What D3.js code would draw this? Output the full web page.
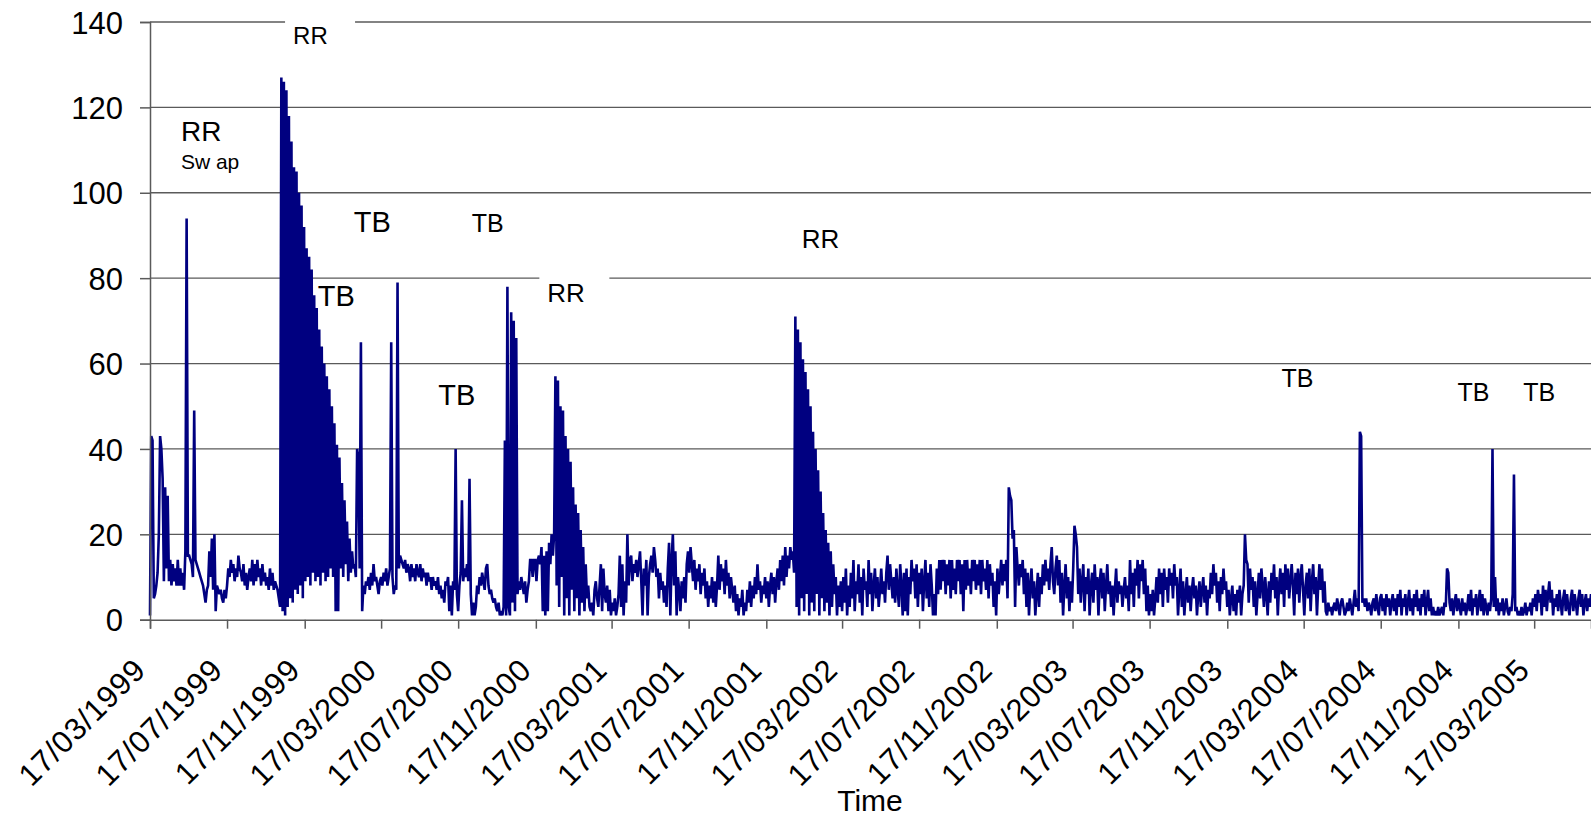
<!DOCTYPE html>
<html>
<head>
<meta charset="utf-8">
<script src="https://cdn.jsdelivr.net/npm/d3@7"></script>
<style>
  html, body { margin: 0; padding: 0; background: #fff; overflow: hidden; }
  svg { display: block; font-family: "Liberation Sans", Arial, sans-serif; }
</style>
</head>
<body>
<svg id="chart" width="1591" height="821"></svg>
<script>
// Observations every second day from 17/03/1999, grouped by four-month window.
const firstDay = "1999-03-17";
const stepDays = 2;

const v1999_03 = [1,43,42,5,6,8,11,20,43,40, 33,9,31,12,29,9,14,8,13,9, 12,8,14,8,12,8,11,7,16,94,
  15,15,14,13,10,49,14,13,12,11, 10,9,8,6,4,7,8,16,10,19, 7,20,2,8,7,6,7,5,4,7, 5];
const v1999_07 = [8,12,10,14,11,13,9,12,10,15, 12,11,9,13,8,11,7,10,12,9, 14,8,13,9,14,10,12,8,13,9,
  11,8,10,7,12,8,11,7,9,8, 7,5,3, 127,2,126,1,124,3,118,5,112,4, 106,7,105,6,100,8,97,5];
const v1999_11 = [92,9,87,10,85,8,82,11,76,9, 73,10,68,8,64,11,60,9,57,10, 54,12,50,10,46,2,41,2,38,12,
  32,10,28,13,23,9,19,11,16,12, 13,10,40,38,12,65,2,8,6,9, 8,10,7,11,8,13,9,10,8,6, 9];
const v2000_03 = [10,8,11,9,12,8,10,12,65,10, 6,8,7,79,12,15,14,13,12,14, 11,13,12,9,13,10,12,9,13,11,
  10,13,9,12,10,11,8,11,9,10, 7,10,8,9,7,10,6,8,5,7, 4,9,8,10,2,8,1,9,7,40, 6];
const v2000_07 = [2,8,11,28,9,12,10,13,9,33, 6,1,4,1,3,8,6,10,8,11, 9,7,12,13,8,6,7,5,4,5,
  3,2,4,1,2,1,3,42,1,78, 3,1,72,4,70,2,66,6,9,7, 10,8,6,9,4,7,9,14,14,10, 14];
const v2000_11 = [14,9,14,15,13,17,2,15,1,16, 2,18,13,20,15,20,57,8,56,3, 50,10,49,1,43,5,40,1,37,7,
  31,2,27,5,25,1,21,4,17,2, 13,5,8,3,2,4,1,7,9,5, 3,8,13,2,12,6,4,8,2,7, 1];
const v2001_03 = [4,2,5,1,3,6,15,3,13,1, 9,4,20,8,14,15,9,13,11,14, 10,13,16,9,1,12,8,14,1,10,
  13,15,11,17,14,10,12,5,11,7, 9,4,8,3,12,18,1,14,20,8, 16,1,10,7,2,9,5,10,4,13, 16];
const v2001_07 = [11,17,13,9,14,7,12,9,13,6, 11,8,12,5,9,3,8,5,10,4, 9,3,8,15,7,13,9,12,6,14,
  8,11,5,10,7,4,8,2,6,1, 5,3,7,1,4,2,7,4,9,3, 8,5,10,6,13,7,9,4,8,6, 10];
const v2001_11 = [5,9,3,8,11,6,10,4,9,12, 7,14,9,15,8,17,10,15,12,17, 14,16,11,71,3,68,1,65,5,61,
  2,58,6,54,1,50,4,44,2,40, 6,35,1,30,5,25,2,21,4,18, 1,16,3,13,6,10,1,8,3,9, 2];
const v2002_03 = [10,4,12,1,8,3,11,5,14,2, 9,6,13,4,10,1,12,7,9,3, 14,6,11,2,8,12,5,10,3,7,
  12,6,9,4,11,15,7,13,9,5, 10,4,12,7,3,13,8,1,11,2, 12,1,10,6,14,9,12,5,13,3, 11];
const v2002_07 = [6,12,2,9,14,5,11,3,13,8, 1,6,1,12,6,14,7,14,9,14, 6,13,8,14,5,14,7,12,6,14,
  9,14,6,13,2,14,7,14,8,12, 6,14,9,14,7,13,8,14,6,14, 9,12,7,14,5,13,8,11,3,9, 1];
const v2002_11 = [12,6,10,14,8,13,9,14,5,31, 29,28,19,21,3,17,12,8,13,10, 14,6,12,3,11,1,8,12,5,9,
  1,6,11,3,10,6,13,8,14,9, 12,7,13,17,9,6,12,15,8,14, 4,11,1,8,13,5,10,2,9,4, 12];
const v2003_03 = [22,20,17,6,12,4,9,13,2,10, 6,12,1,8,11,4,13,7,10,1, 9,12,5,11,2,8,13,6,9,3,
  8,1,7,12,4,9,6,8,3,7, 10,5,8,2,14,6,11,3,12,8, 14,5,13,9,14,6,12,2,8,1, 6];
const v2003_07 = [2,7,1,5,10,4,12,6,11,3, 12,7,10,4,12,8,11,5,13,8, 10,1,7,12,3,9,1,6,10,4,
  8,2,7,10,5,8,1,6,9,3, 7,10,4,8,1,7,5,11,6,13, 8,11,4,9,2,10,6,12,7,9, 3];
const v2003_11 = [7,1,5,8,2,6,1,7,4,8, 1,6,8,20,14,13,4,12,7,10, 3,9,1,6,11,5,12,8,3,10,
  6,1,9,4,11,7,13,5,10,1, 8,12,6,11,3,13,7,12,5,9, 13,8,1,11,6,12,4,10,13,7, 1];
const v2004_03 = [8,11,5,12,2,9,13,6,10,1, 8,13,7,12,4,9,2,1,4,2, 3,1,3,4,2,5,3,1,4,5,
  3,1,2,4,2,5,3,1,4,7, 3,5,2,44,43,4,5,3,5,2, 4,3,1,4,5,2,6,3,1,5, 6];
const v2004_07 = [2,5,1,6,3,5,1,4,6,2, 5,1,6,3,7,1,5,3,6,1, 4,7,2,5,1,6,3,7,2,5,
  1,6,3,7,1,4,7,2,5,1, 3,1,2,1,3,1,2,3,1,4, 3,12,11,4,2,5,1,4,6,2, 5];
const v2004_11 = [3,1,5,2,4,1,3,6,2,7, 1,5,3,6,1,4,7,2,6,1, 5,3,1,4,2,5,40,3,10,2,
  5,1,4,2,5,1,3,5,2,1, 3,2,6,34,2,3,1,2,1,3, 1,2,4,1,3,2,4,1,5,3, 6];
const v2005_03 = [2,7,4,6,1,8,3,7,2,6, 9,4,7,1,5,3,6,2,7,4, 1,5,7,2,6,3,1,5,7,2,
  6,4,1,5,7,3,6,1,4,6, 2,5,3,6];

const yTicks = [0, 20, 40, 60, 80, 100, 120, 140];
const xTickLabels = ["17/03/1999","17/07/1999","17/11/1999","17/03/2000","17/07/2000","17/11/2000",
  "17/03/2001","17/07/2001","17/11/2001","17/03/2002","17/07/2002","17/11/2002","17/03/2003",
  "17/07/2003","17/11/2003","17/03/2004","17/07/2004","17/11/2004","17/03/2005"];
const xTitle = "Time";

// Event notes: text and the date/value at which each sits.
const noteTexts = ["RR", "RR", "Sw ap", "TB", "TB", "TB", "TB", "RR", "RR", "TB", "TB", "TB"];
const noteDates = ["1999-11-26", "1999-05-05", "1999-05-05", "2000-03-03", "2000-01-06", "2000-07-15",
  "2000-09-02", "2001-01-04", "2002-02-11", "2004-03-07", "2004-12-11", "2005-03-25"];
const noteValues = [134.9, 112.1, 105.5, 90.8, 73.5, 50.3, 90.9, 74.35, 87.0, 54.6, 51.2, 51.2];

// ---- styling / layout ----
const W = 1591, H = 821;
const plot = { left: 150, right: 1591, top: 22, bottom: 619.7 };
const noteStyle = [
  { size: 24, anchor: "middle", boxed: true },
  { size: 28, anchor: "start" },
  { size: 21, anchor: "start" },
  { size: 29, anchor: "middle" },
  { size: 29, anchor: "middle" },
  { size: 29, anchor: "middle" },
  { size: 25, anchor: "middle" },
  { size: 26, anchor: "middle", boxed: true },
  { size: 26, anchor: "middle" },
  { size: 25, anchor: "middle" },
  { size: 25, anchor: "middle" },
  { size: 25, anchor: "middle" }
];

const parseIso = d3.utcParse("%Y-%m-%d");
const parseTick = d3.utcParse("%d/%m/%Y");
const start = parseIso(firstDay);

const values = [].concat(v1999_03, v1999_07, v1999_11, v2000_03, v2000_07, v2000_11,
  v2001_03, v2001_07, v2001_11, v2002_03, v2002_07, v2002_11, v2003_03, v2003_07,
  v2003_11, v2004_03, v2004_07, v2004_11, v2005_03);
const points = values.map((v, i) => ({ date: d3.utcDay.offset(start, i * stepDays), value: v }));

const x = d3.scaleUtc()
  .domain([start, points[points.length - 1].date])
  .range([plot.left, plot.right]);
const y = d3.scaleLinear().domain([0, 140]).range([plot.bottom, plot.top]);

const svg = d3.select("#chart");
svg.append("rect").attr("width", W).attr("height", H).attr("fill", "#fff");

const axisColor = "#5a5a5a";

// horizontal gridlines
svg.append("g").selectAll("line")
  .data(yTicks.filter(t => t > 0))
  .join("line")
  .attr("x1", plot.left).attr("x2", plot.right)
  .attr("y1", d => y(d)).attr("y2", d => y(d))
  .attr("stroke", axisColor).attr("stroke-width", 1.3);

// series line
svg.append("path")
  .datum(points)
  .attr("fill", "none")
  .attr("stroke", "#000080")
  .attr("stroke-width", 2.6)
  .attr("stroke-linejoin", "miter")
  .attr("stroke-miterlimit", 2)
  .attr("d", d3.line().x(d => x(d.date)).y(d => y(d.value)));

// y axis
const yAxis = svg.append("g")
  .attr("transform", `translate(${plot.left},0)`)
  .call(d3.axisLeft(y).tickValues(yTicks).tickSize(10).tickPadding(17).tickFormat(d3.format("d")));
yAxis.select(".domain").attr("stroke", axisColor).attr("stroke-width", 1.5);
yAxis.selectAll(".tick line").attr("stroke", axisColor).attr("stroke-width", 1.5);
yAxis.selectAll(".tick text")
  .attr("fill", "#000")
  .style("font-size", "31px")
  .style("font-family", "'Liberation Sans', Arial, sans-serif")
  .attr("dy", "0.36em");

// x axis
const tickDates = xTickLabels.map(parseTick);
const xAxis = svg.append("g")
  .attr("transform", `translate(0,${plot.bottom})`)
  .call(d3.axisBottom(x).tickValues(tickDates).tickSize(9)
    .tickFormat((d, i) => xTickLabels[i]));
xAxis.select(".domain").attr("stroke", axisColor).attr("stroke-width", 1.5);
xAxis.selectAll(".tick line").attr("stroke", axisColor).attr("stroke-width", 1.5);
xAxis.selectAll(".tick text")
  .attr("fill", "#000")
  .style("font-size", "31px")
  .style("letter-spacing", "0.9px")
  .style("font-family", "'Liberation Sans', Arial, sans-serif")
  .attr("x", 0).attr("y", 0).attr("dy", 0)
  .attr("text-anchor", "end")
  .attr("transform", "translate(-3,52) rotate(-45)");

// axis title
svg.append("text")
  .attr("x", 870).attr("y", 811)
  .attr("text-anchor", "middle")
  .style("font-size", "30px")
  .attr("fill", "#000")
  .text(xTitle);

// notes
const notes = svg.append("g");
noteTexts.forEach((t, i) => {
  const st = noteStyle[i];
  const g = notes.append("g");
  const tx = g.append("text")
    .attr("x", x(parseIso(noteDates[i])))
    .attr("y", y(noteValues[i]))
    .attr("text-anchor", st.anchor)
    .style("font-size", st.size + "px")
    .attr("fill", "#000")
    .text(t);
  if (st.boxed) {
    const bb = tx.node().getBBox();
    g.insert("rect", "text")
      .attr("x", bb.x - 8).attr("y", bb.y - 6)
      .attr("width", 70).attr("height", bb.height + 10)
      .attr("fill", "#fff");
  }
});
</script>
</body>
</html>
